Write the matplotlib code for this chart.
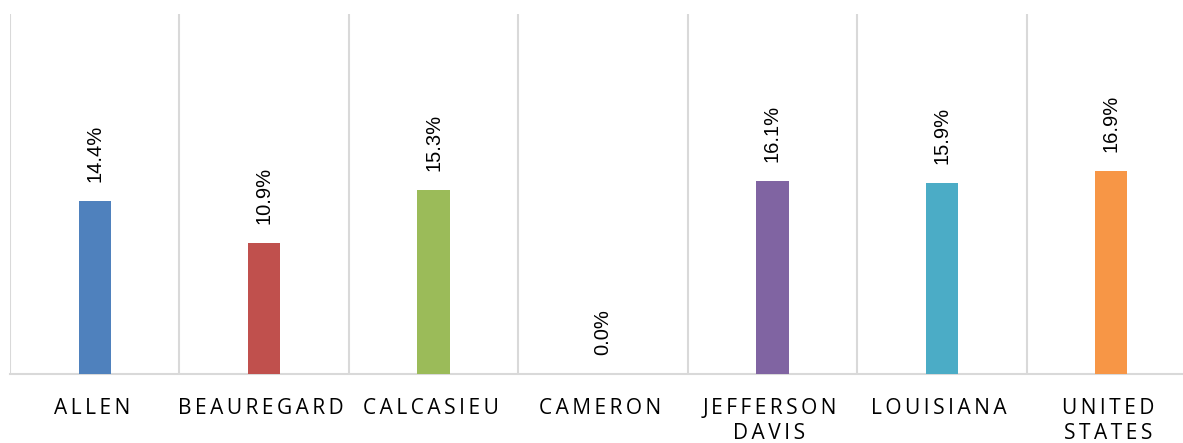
import matplotlib
matplotlib.use("Agg")
import matplotlib.pyplot as plt
from matplotlib.transforms import ScaledTranslation

categories = ["ALLEN", "BEAUREGARD", "CALCASIEU", "CAMERON",
              "JEFFERSON\nDAVIS", "LOUISIANA", "UNITED\nSTATES"]
values = [14.4, 10.9, 15.3, 0.0, 16.1, 15.9, 16.9]
colors = ["#4f81bd", "#c0504d", "#9bbb59", "#8064a2",
          "#8064a2", "#4bacc6", "#f79646"]
value_labels = ["14.4%", "10.9%", "15.3%", "0.0%", "16.1%", "15.9%", "16.9%"]

TRACK = "\u2006"  # six-per-em space used as letter spacing


def spaced(label):
    # widen letter spacing between characters of each line
    return "\n".join(TRACK.join(line) for line in label.split("\n"))


W, H = 1183, 443
fig = plt.figure(figsize=(W / 100, H / 100), dpi=100)
left_px, right_px, top_px, base_px = 10, 1196, 14, 374
ax = fig.add_axes([left_px / W, (H - base_px) / H,
                   (right_px - left_px) / W, (base_px - top_px) / H])

x = list(range(len(categories)))
ax.bar(x, values, width=0.19, color=colors, zorder=3)

for xi, v, lab in zip(x, values, value_labels):
    ax.annotate(lab, xy=(xi, v), xytext=(0, 19), textcoords="offset pixels",
                rotation=90, ha="center", va="bottom", fontsize=14.5,
                family=["Liberation Sans", "DejaVu Sans"], color="#000000")

ax.set_xlim(-0.5, len(categories) - 0.5)
ax.set_ylim(0, 30)

# vertical separators between categories
for b in range(len(categories) + 1):
    ax.axvline(b - 0.5, color="#d9d9d9", linewidth=1.5, zorder=1)

for s in ["top", "right", "left"]:
    ax.spines[s].set_visible(False)
ax.spines["bottom"].set_color("#d9d9d9")
ax.spines["bottom"].set_linewidth(1.5)

ax.set_yticks([])
ax.set_xticks(x)
ax.set_xticklabels([spaced(c) for c in categories], fontsize=15,
                   family=["Open Sans", "DejaVu Sans"], color="#000000",
                   linespacing=1.28)
ax.tick_params(axis="x", length=0, pad=17)

# nudge category labels slightly left
shift = ScaledTranslation(-3 / 100, 0, fig.dpi_scale_trans)
for t in ax.get_xticklabels():
    t.set_transform(t.get_transform() + shift)

fig.savefig("out.png", dpi=100)
